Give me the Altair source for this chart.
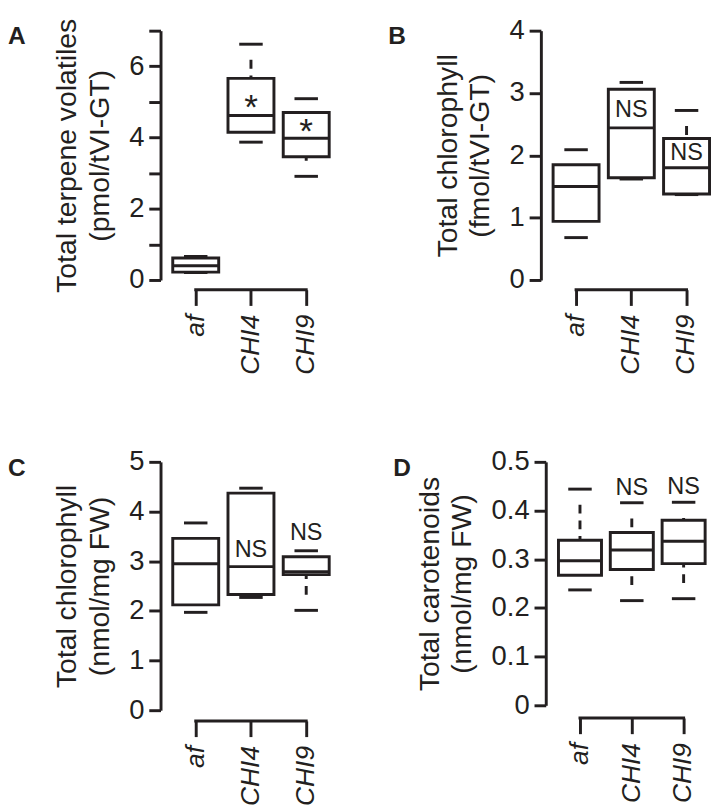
import altair as alt
import pandas as pd

cats = ["af", "CHI4", "CHI9"]

# Panel A: total terpene volatiles
a_low = [0.21, 3.87, 2.91]
a_q1 = [0.22, 4.15, 3.46]
a_med = [0.40, 4.62, 3.98]
a_q3 = [0.62, 5.66, 4.70]
a_high = [0.66, 6.62, 5.09]
a_note = ["", "*", "*"]
a_note_y = [None, 5.05, 4.36]

# Panel B: total chlorophyll per trichome
b_low = [0.68, 1.62, 1.37]
b_q1 = [0.94, 1.64, 1.38]
b_med = [1.50, 2.44, 1.80]
b_q3 = [1.85, 3.06, 2.27]
b_high = [2.09, 3.17, 2.72]
b_note = ["", "NS", "NS"]
b_note_y = [None, 2.72, 2.03]

# Panel C: total chlorophyll per FW
c_low = [1.97, 2.27, 2.01]
c_q1 = [2.12, 2.33, 2.73]
c_med = [2.95, 2.89, 2.79]
c_q3 = [3.46, 4.37, 3.09]
c_high = [3.77, 4.47, 3.21]
c_note = ["", "NS", "NS"]
c_note_y = [None, 3.23, 3.56]

# Panel D: total carotenoids
d_low = [0.237, 0.215, 0.219]
d_q1 = [0.267, 0.279, 0.291]
d_med = [0.297, 0.319, 0.337]
d_q3 = [0.339, 0.355, 0.380]
d_high = [0.444, 0.416, 0.417]
d_note = ["", "NS", "NS"]
d_note_y = [None, 0.446, 0.448]

INK = "#231f20"
FONT = "Liberation Sans"
# whisker dash: starts with a gap at the cap end, then regular dashes
WHISKER_DASH = [0, 16] + [9, 7] * 12


def panel(letter, title_lines, lo, q1, med, q3, hi, note, note_y, ymax, yvals,
          label_expr, W, H, step, band, x_offset, note_size, note_dy):
    df = pd.DataFrame({"cat": cats, "lo": lo, "q1": q1, "med": med,
                       "q3": q3, "hi": hi, "note": note, "ny": note_y})
    n = len(cats)
    pi = 1 - band / step
    po = (W / step - (n - pi)) / 2
    xscale = alt.Scale(domain=cats, paddingInner=pi, paddingOuter=po, align=1)
    xaxis = alt.Axis(title=None, domain=False, ticks=True, tickSize=16,
                     tickWidth=3, tickColor=INK, offset=x_offset, labelAngle=270,
                     labelFontStyle="italic", labelFontSize=27, labelFont=FONT,
                     labelColor=INK, labelPadding=9, labelAlign="right",
                     labelBaseline="middle")
    yscale = alt.Scale(domain=[0, ymax], nice=False, zero=True)
    yaxis = alt.Axis(title=title_lines, values=yvals, labelExpr=label_expr,
                     domainColor=INK, domainWidth=3, tickColor=INK, tickWidth=3,
                     tickSize=12, labelFont=FONT, labelFontSize=28, labelColor=INK,
                     labelPadding=5, titleFont=FONT, titleFontSize=29,
                     titleFontWeight="normal", titleColor=INK, titlePadding=15,
                     titleLineHeight=33)

    def X(field="cat"):
        return alt.X(f"{field}:N", scale=xscale, axis=xaxis)

    def Y(field):
        return alt.Y(f"{field}:Q", scale=yscale, axis=yaxis)

    base = alt.Chart(df)
    bracket = alt.Chart(pd.DataFrame({"cat": [cats[0], cats[-1]]})).mark_line(
        color=INK, strokeWidth=3, strokeCap="square"
    ).encode(x=X(), y=alt.value(H + x_offset))
    wh_up = base.mark_rule(color=INK, strokeWidth=3, strokeDash=WHISKER_DASH).encode(
        x=X(), y=Y("hi"), y2="q3")
    wh_dn = base.mark_rule(color=INK, strokeWidth=3, strokeDash=WHISKER_DASH).encode(
        x=X(), y=Y("lo"), y2="q1")
    box = base.mark_bar(fill="white", stroke=INK, strokeWidth=3).encode(
        x=X(), y=Y("q1"), y2="q3")
    median = base.mark_tick(color=INK, opacity=1, size=band, thickness=3,
                            orient="horizontal").encode(x=X(), y=Y("med"))
    cap_hi = base.mark_tick(color=INK, opacity=1, size=24, thickness=3,
                            orient="horizontal").encode(x=X(), y=Y("hi"))
    cap_lo = base.mark_tick(color=INK, opacity=1, size=24, thickness=3,
                            orient="horizontal").encode(x=X(), y=Y("lo"))
    notes = base.transform_filter(alt.datum.note != "").mark_text(
        color=INK, font=FONT, fontSize=note_size, baseline="middle", dy=note_dy
    ).encode(x=X(), y=Y("ny"), text="note:N")
    tag = alt.Chart(pd.DataFrame({"t": [letter]})).mark_text(
        color=INK, font=FONT, fontSize=25, fontWeight="bold", align="left",
        baseline="top"
    ).encode(x=alt.value(-156), y=alt.value(-6), text="t:N")
    return alt.layer(bracket, wh_up, wh_dn, box, median, cap_hi, cap_lo, notes, tag).properties(
        width=W, height=H)


pA = panel("A", ["Total terpene volatiles", "(pmol/tVI-GT)"], a_low, a_q1, a_med, a_q3, a_high,
           a_note, a_note_y, 7, [0, 1, 2, 3, 4, 5, 6, 7],
           "datum.value % 2 == 0 ? datum.label : ''", 172.5, 255, 56.5, 47, 10, 36, 8)
pB = panel("B", ["Total chlorophyll", "(fmol/tVI-GT)"], b_low, b_q1, b_med, b_q3, b_high,
           b_note, b_note_y, 4, [0, 1, 2, 3, 4], "datum.label", 172.5, 255, 56.5, 47, 10, 24, 0)
pC = panel("C", ["Total chlorophyll", "(nmol/mg FW)"], c_low, c_q1, c_med, c_q3, c_high,
           c_note, c_note_y, 5, [0, 1, 2, 3, 4, 5], "datum.label", 172.5, 254, 56.5, 47, 11, 24, 0)
pD = panel("D", ["Total carotenoids", "(nmol/mg FW)"], d_low, d_q1, d_med, d_q3, d_high,
           d_note, d_note_y, 0.5, [0, 0.1, 0.2, 0.3, 0.4, 0.5],
           "datum.value == 0 ? '0' : format(datum.value, '.1f')", 163, 249, 53, 44, 13, 24, 0)

chart = alt.vconcat(
    alt.hconcat(pA, pB, spacing=59),
    alt.hconcat(pC, pD, spacing=64),
    spacing=75,
).properties(padding=0).configure_view(stroke=None).configure_axis(grid=False)

chart.save("out.html", embed_options={"renderer": "svg", "actions": False})
